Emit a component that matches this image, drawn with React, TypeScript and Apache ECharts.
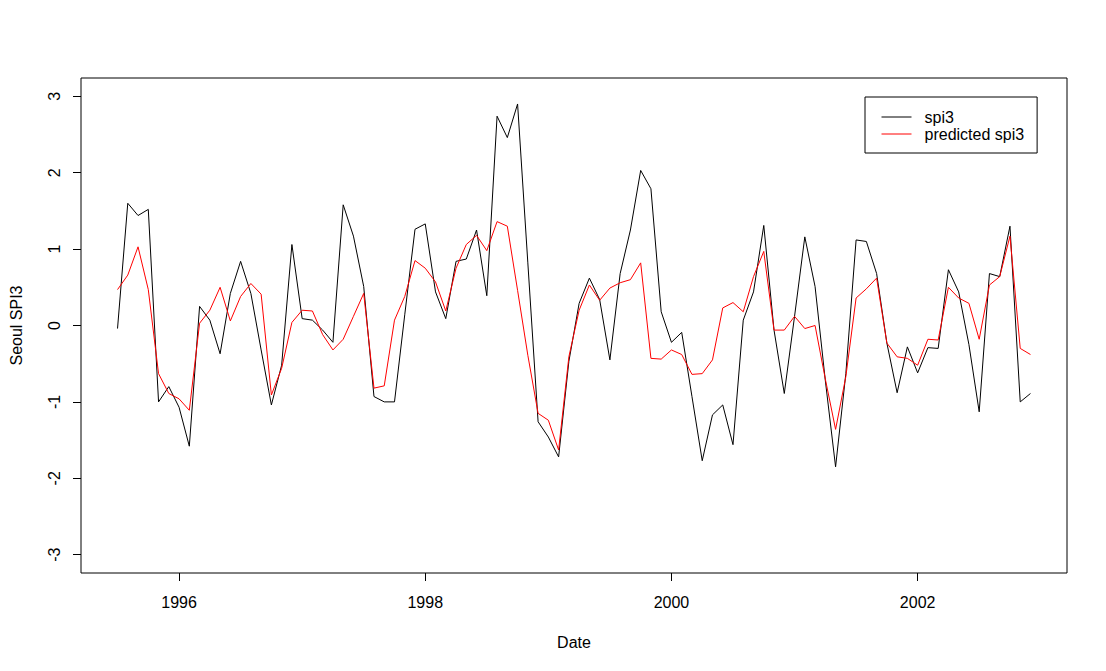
import React, { useEffect, useRef } from "react";
import * as echarts from "echarts";

// Monthly series, July 1995 .. December 2002
const startYear = 1995;
const startMonth = 7;

const spi3 = [
  -0.04, 1.6, 1.44, 1.52, -1.0, -0.8, -1.07, -1.58, 0.25, 0.07, -0.37, 0.42,
  0.84, 0.42, -0.32, -1.04, -0.52, 1.06, 0.09, 0.07, -0.06, -0.22, 1.58, 1.17,
  0.51, -0.93, -1.0, -1.0, 0.14, 1.26, 1.33, 0.44, 0.09, 0.84, 0.87, 1.25,
  0.39, 2.74, 2.46, 2.9, 0.82, -1.26, -1.46, -1.72, -0.47, 0.29, 0.62, 0.34,
  -0.45, 0.68, 1.25, 2.03, 1.79, 0.18, -0.22, -0.09, -0.93, -1.77, -1.17, -1.04,
  -1.56, 0.07, 0.44, 1.31, -0.06, -0.89, 0.12, 1.16, 0.51, -0.72, -1.85, -0.63,
  1.12, 1.1, 0.68, -0.23, -0.88, -0.28, -0.62, -0.29, -0.3, 0.73, 0.44, -0.25,
  -1.13, 0.68, 0.64, 1.3, -1.0, -0.89,
];

const predicted = [
  0.47, 0.66, 1.03, 0.47, -0.63, -0.89, -0.96, -1.11, 0.03, 0.2, 0.5, 0.06,
  0.38, 0.55, 0.41, -0.91, -0.56, 0.04, 0.2, 0.19, -0.12, -0.32, -0.18, 0.12,
  0.42, -0.82, -0.79, 0.07, 0.38, 0.85, 0.75, 0.57, 0.19, 0.75, 1.06, 1.18,
  0.98, 1.36, 1.3, 0.46, -0.39, -1.15, -1.24, -1.63, -0.41, 0.2, 0.53, 0.33,
  0.49, 0.56, 0.6, 0.82, -0.43, -0.44, -0.32, -0.38, -0.64, -0.63, -0.45, 0.23,
  0.3, 0.18, 0.64, 0.97, -0.06, -0.06, 0.12, -0.04, 0.0, -0.7, -1.36, -0.67,
  0.36, 0.48, 0.62, -0.23, -0.41, -0.43, -0.52, -0.18, -0.19, 0.5, 0.36, 0.29,
  -0.18, 0.53, 0.64, 1.17, -0.3, -0.38,
];

const xTicks = [1996, 1998, 2000, 2002];
const yTicks = [-3, -2, -1, 0, 1, 2, 3];
const seriesNames = ["spi3", "predicted spi3"];

const FONT = "'Liberation Sans', Arial, Helvetica, sans-serif";

export default function App() {
  const ref = useRef<HTMLDivElement>(null);

  useEffect(() => {
    if (!ref.current) return;
    const chart = echarts.init(ref.current, null, { renderer: "svg" });

    const times = spi3.map((_, i) => startYear + (startMonth - 1 + i) / 12);
    const tMin = times[0];
    const tMax = times[times.length - 1];
    const xPad = (tMax - tMin) * 0.04;
    const yLo = Math.min(...yTicks);
    const yHi = Math.max(...yTicks);
    const yPad = (yHi - yLo) * 0.04;

    const toPairs = (vals: number[]) => vals.map((v, i) => [times[i], v]);

    chart.setOption({
      animation: false,
      backgroundColor: "#ffffff",
      textStyle: { fontFamily: FONT },
      grid: {
        left: 78,
        right: 39,
        top: 78,
        bottom: 98,
        show: true,
        borderColor: "#000",
        borderWidth: 1,
        backgroundColor: "transparent",
        containLabel: false,
      },
      legend: {
        data: seriesNames,
        orient: "vertical",
        left: 865,
        top: 97,
        borderColor: "#000",
        borderWidth: 1,
        borderRadius: 0,
        backgroundColor: "#fff",
        padding: [12, 13, 11, 16],
        itemWidth: 30,
        itemHeight: 16,
        itemGap: 1,
        selectedMode: false,
        itemStyle: { opacity: 0 },
        lineStyle: { opacity: 1, width: 1 },
        textStyle: {
          fontFamily: FONT,
          fontSize: 16,
          color: "#000",
          lineHeight: 16,
          padding: [0, 0, 0, 8],
        },
      },
      xAxis: {
        type: "value",
        min: tMin - xPad,
        max: tMax + xPad,
        name: "Date",
        nameLocation: "middle",
        nameGap: 61,
        nameTextStyle: { fontFamily: FONT, fontSize: 16, color: "#000" },
        axisLine: { show: false, onZero: false },
        splitLine: { show: false },
        axisTick: {
          show: true,
          length: 8,
          lineStyle: { color: "#000", width: 1 },
          customValues: xTicks,
        },
        axisLabel: {
          show: true,
          margin: 21,
          fontFamily: FONT,
          fontSize: 16,
          color: "#000",
          customValues: xTicks,
          formatter: (v: number) => String(Math.round(v)),
        },
      },
      yAxis: {
        type: "value",
        min: yLo - yPad,
        max: yHi + yPad,
        name: "Seoul SPI3",
        nameLocation: "middle",
        nameGap: 57,
        nameTextStyle: { fontFamily: FONT, fontSize: 16, color: "#000" },
        axisLine: { show: false, onZero: false },
        splitLine: { show: false },
        axisTick: {
          show: true,
          length: 8,
          lineStyle: { color: "#000", width: 1 },
          customValues: yTicks,
        },
        axisLabel: {
          show: true,
          rotate: 90,
          margin: 19,
          fontFamily: FONT,
          fontSize: 16,
          color: "#000",
          customValues: yTicks,
          formatter: (v: number) => String(Math.round(v)),
        },
      },
      series: [
        {
          name: seriesNames[0],
          type: "line",
          data: toPairs(spi3),
          symbol: "none",
          showSymbol: false,
          lineStyle: { color: "#000000", width: 1 },
          itemStyle: { color: "#000000" },
          z: 2,
        },
        {
          name: seriesNames[1],
          type: "line",
          data: toPairs(predicted),
          symbol: "none",
          showSymbol: false,
          lineStyle: { color: "#ff0000", width: 1 },
          itemStyle: { color: "#ff0000" },
          z: 3,
        },
      ],
    });

    return () => {
      chart.dispose();
    };
  }, []);

  return (
    <div
      ref={ref}
      style={{
        position: "fixed",
        left: 0,
        top: 0,
        width: 1106,
        height: 671,
        background: "#fff",
      }}
    />
  );
}
